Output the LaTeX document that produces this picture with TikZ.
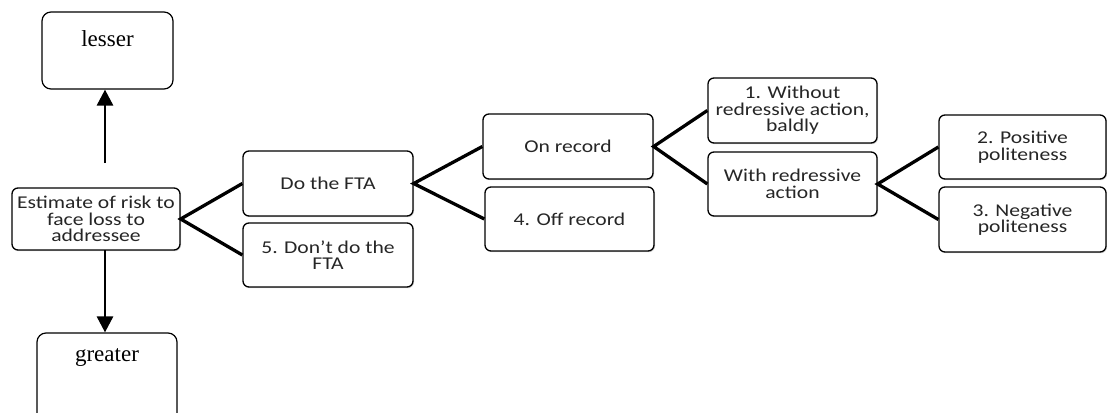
\documentclass[tikz,border=0pt]{standalone}
\usepackage{fontspec}
\setmainfont{Liberation Serif}
\newfontfamily\boxfont[FakeStretch=1.2]{Carlito}
\usetikzlibrary{arrows.meta,shadows}
\begin{document}
\begin{tikzpicture}[x=1pt,y=-1pt,
  box/.style={draw=black, line width=1.3pt, rounded corners=6pt, fill=white,
    inner sep=0pt, align=center, text=black!85,
    drop shadow={shadow xshift=1pt, shadow yshift=-1.2pt, opacity=0.35},
    font=\boxfont\fontsize{18}{16.5}\selectfont},
  endbox/.style={draw=black, line width=1.2pt, rounded corners=9pt, fill=white,
    inner sep=0pt, font=\fontsize{23}{25}\selectfont},
  link/.style={line width=3.3pt, black},
  arr/.style={line width=2.8pt, -{Triangle[width=16pt,length=16pt]}}]
\useasboundingbox (0,0) rectangle (1107,412);
\clip (0,0) rectangle (1107,412);

% scale poles
\node[endbox, minimum width=131pt, minimum height=77pt, text height=15pt, text depth=22pt]
  (lesser) at (107.5,50.5) {lesser};
\node[endbox, minimum width=140pt, minimum height=90pt, text height=15pt, text depth=49pt]
  (greater) at (107,378) {greater};

% decision tree
\node[box, minimum width=168pt, minimum height=62pt] (est) at (96,219)
  {Estimate of risk to\\face loss to\\addressee};
\node[box, minimum width=170pt, minimum height=65pt] (fta) at (328,183.5) {Do the FTA};
\node[box, minimum width=170pt, minimum height=64pt] (dont) at (328,255) {5. Don’t do the\\FTA};
\node[box, minimum width=170pt, minimum height=65pt] (on) at (568,146.5) {On record};
\node[box, minimum width=169pt, minimum height=64pt] (off) at (569.5,219) {4. Off record};
\node[box, minimum width=169pt, minimum height=65pt] (bald) at (792.5,110.5)
  {1. Without\\redressive action,\\baldly};
\node[box, minimum width=169pt, minimum height=64pt] (redr) at (792.5,184)
  {With redressive\\action};
\node[box, minimum width=167pt, minimum height=64pt] (pos) at (1022.5,147)
  {2. Positive\\politeness};
\node[box, minimum width=167pt, minimum height=65pt] (neg) at (1022.5,219.5)
  {3. Negative\\politeness};

% branches
\draw[link] (fta.west) -- (est.east) -- (dont.west);
\draw[link] (on.west) -- (fta.east) -- (off.west);
\draw[link] (bald.west) -- (on.east) -- (redr.west);
\draw[link] (pos.west) -- (redr.east) -- (neg.west);

% arrows to the poles
\coordinate (upstart) at (105,163);
\coordinate (downstart) at (105,250);
\draw[arr] (upstart) -- (upstart |- lesser.south);
\draw[arr] (downstart) -- (downstart |- greater.north);
\end{tikzpicture}
\end{document}
